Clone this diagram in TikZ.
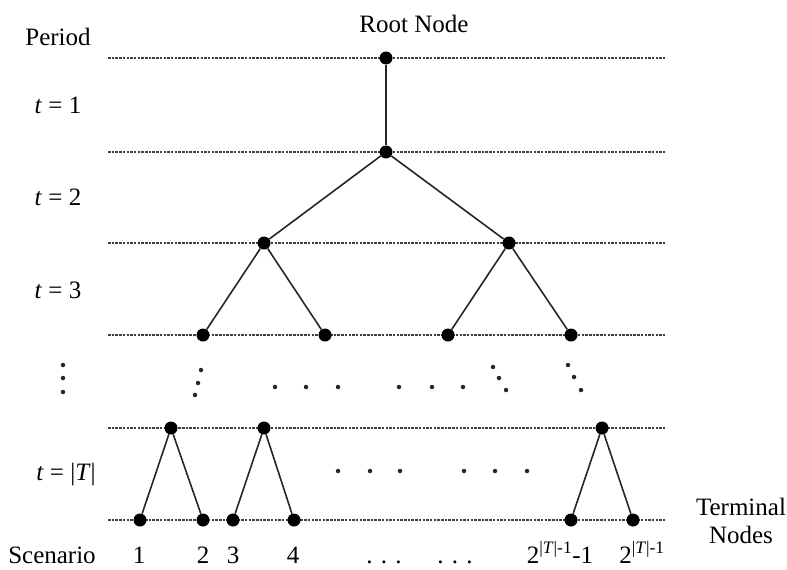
\documentclass[tikz,border=0pt]{standalone}
\usepackage{fontspec}
\setmainfont{Liberation Serif}
\begin{document}
\begin{tikzpicture}[x=1pt,y=-1pt,
  level/.style={draw=black!75, line width=1.1pt, dash pattern=on 2.5pt off 1.2pt},
  branch/.style={draw=black!85, line width=1.6pt},
  vert/.style={circle, fill=black, inner sep=0pt, minimum size=13pt},
  gapdot/.style={circle, fill=black!85, inner sep=0pt, minimum size=4.5pt},
  lbl/.style={font=\fontsize{25}{30}\selectfont, inner sep=0pt, anchor=base},
]
\useasboundingbox (0,0) rectangle (787,570);

% period boundaries
\foreach \y in {58,152,243,335,428,520}
  \draw[level] (108,\y) -- (665,\y);

% tree vertices
\node[vert] (r)   at (386,58)  {};
\node[vert] (a)   at (386,152) {};
\node[vert] (b1)  at (264,243) {};
\node[vert] (b2)  at (509,243) {};
\node[vert] (c1)  at (203,335) {};
\node[vert] (c2)  at (325,335) {};
\node[vert] (c3)  at (448,335) {};
\node[vert] (c4)  at (571,335) {};
\node[vert] (d1)  at (171,428) {};
\node[vert] (d2)  at (264,428) {};
\node[vert] (d3)  at (602,428) {};
\node[vert] (e1)  at (140,520) {};
\node[vert] (e2)  at (203,520) {};
\node[vert] (e3)  at (233,520) {};
\node[vert] (e4)  at (294,520) {};
\node[vert] (e5)  at (571,520) {};
\node[vert] (e6)  at (633,520) {};

% branches
\draw[branch] (r) -- (a);
\draw[branch] (a) -- (b1);
\draw[branch] (a) -- (b2);
\draw[branch] (b1) -- (c1);
\draw[branch] (b1) -- (c2);
\draw[branch] (b2) -- (c3);
\draw[branch] (b2) -- (c4);
\draw[branch] (d1) -- (e1);
\draw[branch] (d1) -- (e2);
\draw[branch] (d2) -- (e3);
\draw[branch] (d2) -- (e4);
\draw[branch] (d3) -- (e5);
\draw[branch] (d3) -- (e6);

% elided periods and branches
\foreach \x/\y in {63/365, 63/378, 63/392,
                   201/370, 198/383, 195/395,
                   275/387, 306/387, 338/387,
                   399/387, 432/387, 463/387,
                   493/367, 499/378, 506/390,
                   568/365, 574/377, 581/390,
                   338/471, 370/471, 400/471,
                   464/471, 495/471, 527/471}
  \node[gapdot] at (\x,\y) {};

% labels
\node[lbl] (root)   at (414,32)  {Root Node};
\node[lbl] (period) at (58,45)   {Period};
\node[lbl] (t1)     at (58,113)  {\textit{t} = 1};
\node[lbl] (t2)     at (58,205)  {\textit{t} = 2};
\node[lbl] (t3)     at (58,298)  {\textit{t} = 3};
\node[lbl] (tT)     at (66,480)  {\textit{t} = |\textit{T}|};
\node[lbl] (term)   at (741,515) {Terminal};
\node[lbl] (nodes)  at (741,543) {Nodes};

\node[lbl] (scen) at (52,563)  {Scenario};
\node[lbl] (s1)   at (139,563) {1};
\node[lbl] (s2)   at (203,563) {2};
\node[lbl] (s3)   at (233,563) {3};
\node[lbl] (s4)   at (293,563) {4};
\node[lbl] (sd1)  at (384,563) {. . .};
\node[lbl] (sd2)  at (455,563) {. . .};
\node[lbl] (sn1)  at (560,563) {2\textsuperscript{|\textit{T}|-1}-1};
\node[lbl] (sn)   at (642,563) {2\textsuperscript{|\textit{T}|-1}};
\end{tikzpicture}
\end{document}
